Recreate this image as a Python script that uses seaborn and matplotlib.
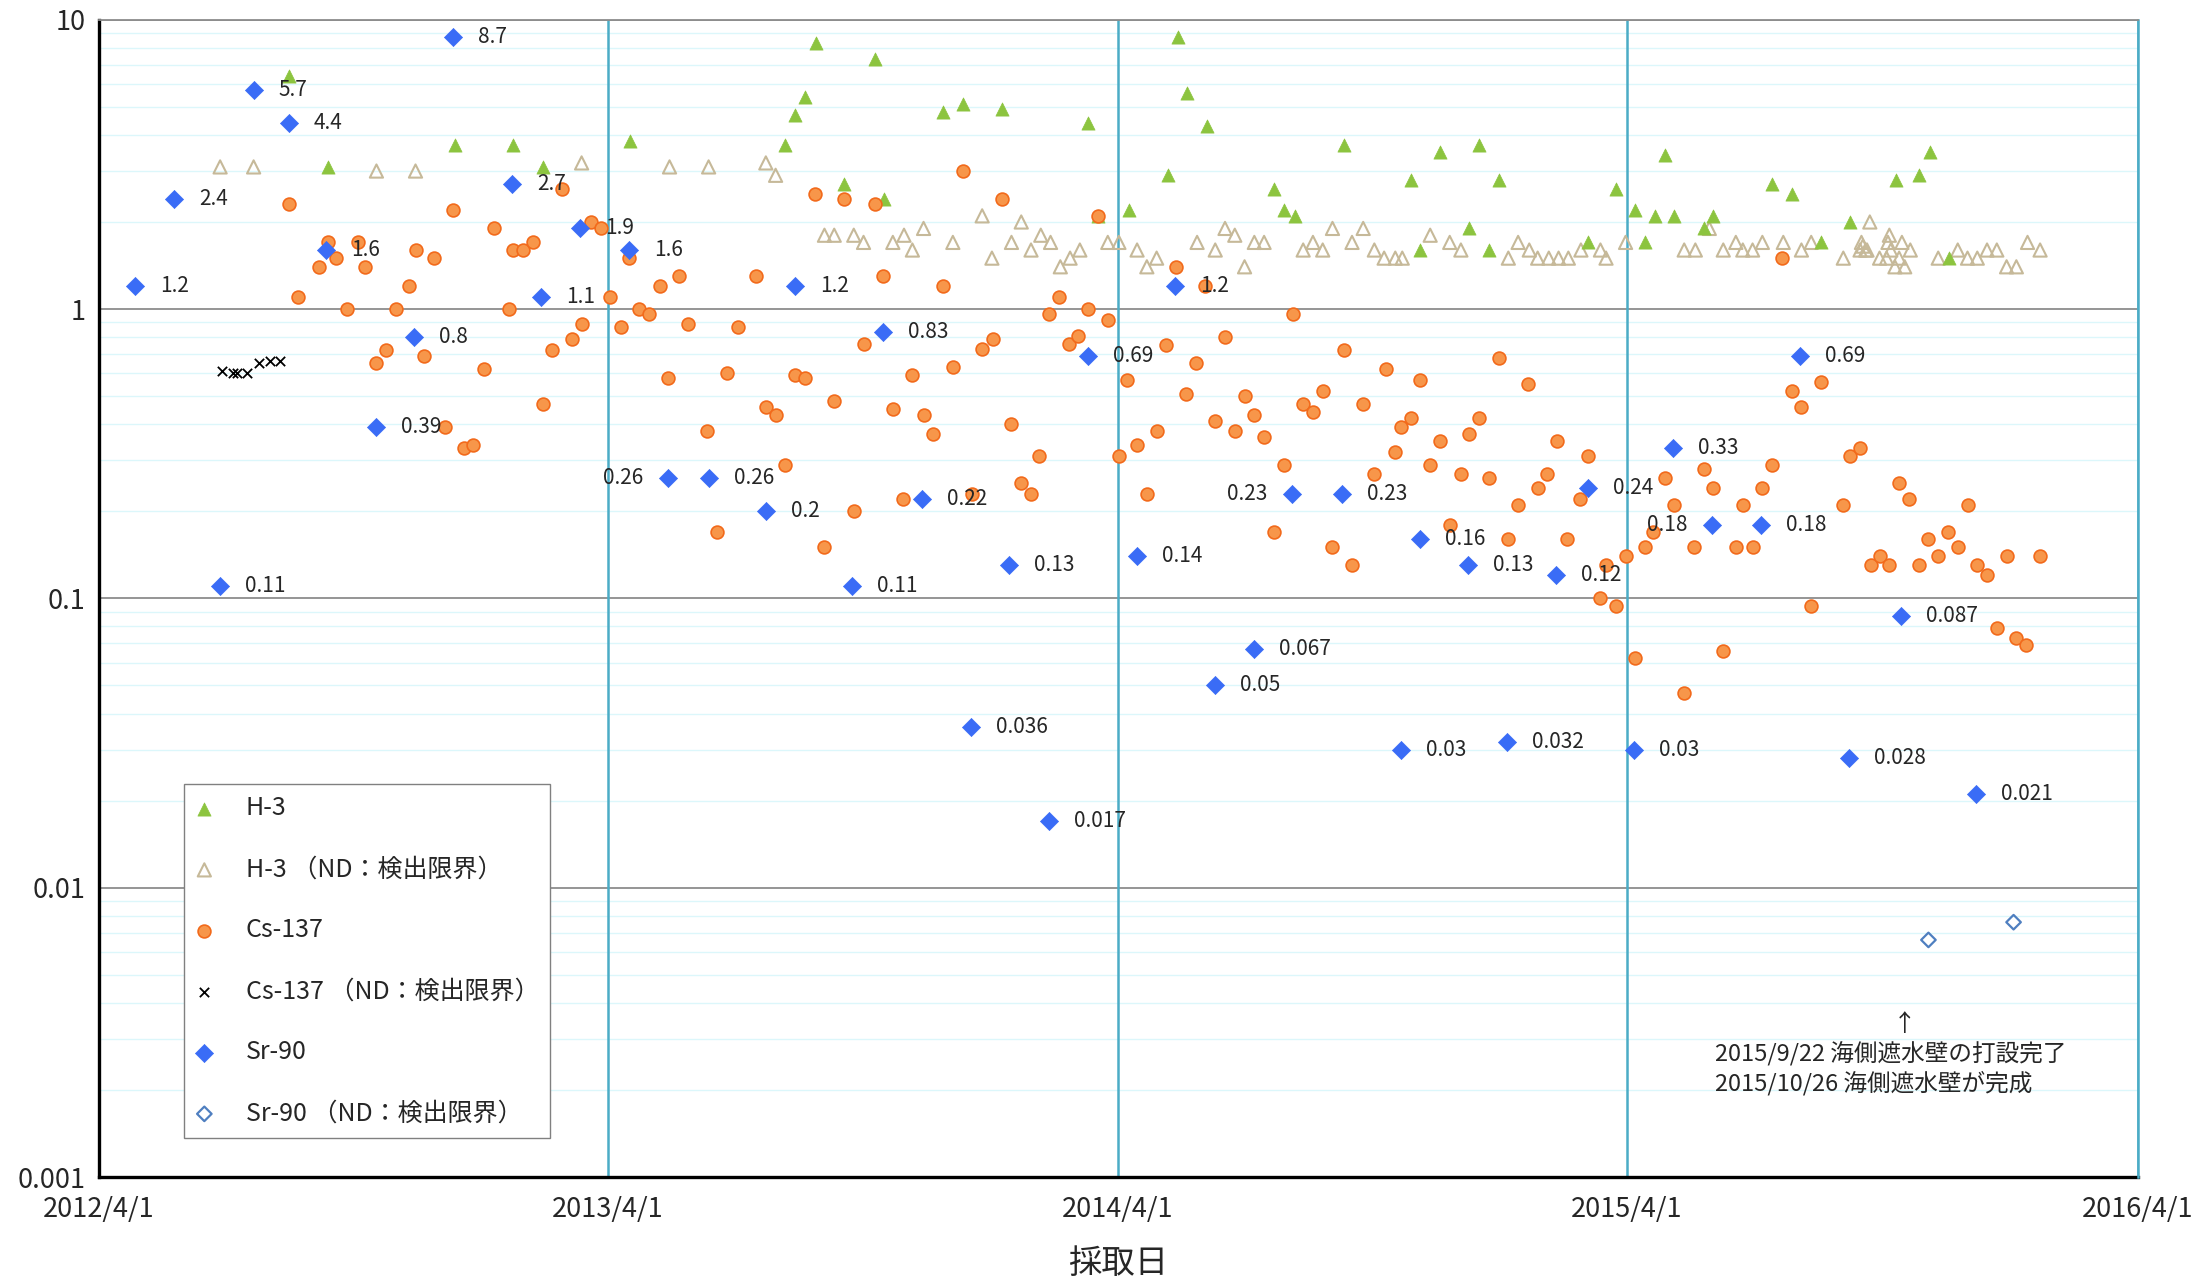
import pandas as pd
import matplotlib
matplotlib.use("Agg")
import matplotlib.pyplot as plt
import matplotlib.dates as mdates
from matplotlib.ticker import LogLocator, FuncFormatter, NullFormatter
import seaborn as sns

# H-3 (detected)
h3_date = ["2012-08-15", "2012-09-12", "2012-12-12", "2013-01-23", "2013-02-13", "2013-04-17",
           "2013-08-06", "2013-08-13", "2013-08-20", "2013-08-28", "2013-09-17", "2013-10-09",
           "2013-10-16", "2013-11-27", "2013-12-11", "2014-01-08", "2014-03-11", "2014-03-18",
           "2014-04-09", "2014-05-07", "2014-05-14", "2014-05-21", "2014-06-04", "2014-07-22",
           "2014-07-29", "2014-08-06", "2014-09-10", "2014-10-28", "2014-11-04", "2014-11-18",
           "2014-12-09", "2014-12-16", "2014-12-23", "2014-12-30", "2015-03-04", "2015-03-24",
           "2015-04-07", "2015-04-14", "2015-04-21", "2015-04-28", "2015-05-05", "2015-05-26",
           "2015-06-02", "2015-07-14", "2015-07-28", "2015-08-18", "2015-09-08", "2015-10-11",
           "2015-10-27", "2015-11-04", "2015-11-18"]
h3_value = [6.4, 3.1, 3.7, 3.7, 3.1, 3.8,
            3.7, 4.7, 5.4, 8.3, 2.7, 7.3,
            2.4, 4.8, 5.1, 4.9, 4.4, 2.1,
            2.2, 2.9, 8.7, 5.6, 4.3, 2.6,
            2.2, 2.1, 3.7, 2.8, 1.6, 3.5,
            1.9, 3.7, 1.6, 2.8, 1.7, 2.6,
            2.2, 1.7, 2.1, 3.4, 2.1, 1.9,
            2.1, 2.7, 2.5, 1.7, 2.0, 2.8,
            2.9, 3.5, 1.5]

# H-3 below detection limit (value = detection limit)
h3nd_date = ["2012-06-27", "2012-07-21", "2012-10-17", "2012-11-14", "2013-03-13", "2013-05-15",
             "2013-06-12", "2013-07-23", "2013-07-30", "2013-09-03", "2013-09-10", "2013-09-24",
             "2013-10-01", "2013-10-22", "2013-10-30", "2013-11-05", "2013-11-13", "2013-12-04",
             "2013-12-25", "2014-01-01", "2014-01-15", "2014-01-22", "2014-01-29", "2014-02-05",
             "2014-02-12", "2014-02-19", "2014-02-26", "2014-03-05", "2014-03-25", "2014-04-02",
             "2014-04-15", "2014-04-22", "2014-04-29", "2014-05-28", "2014-06-10", "2014-06-17",
             "2014-06-24", "2014-07-01", "2014-07-08", "2014-07-15", "2014-08-12", "2014-08-19",
             "2014-08-26", "2014-09-02", "2014-09-16", "2014-09-24", "2014-10-02", "2014-10-09",
             "2014-10-17", "2014-10-22", "2014-11-11", "2014-11-25", "2014-12-03", "2015-01-06",
             "2015-01-13", "2015-01-21", "2015-01-27", "2015-02-04", "2015-02-11", "2015-02-18",
             "2015-02-27", "2015-03-13", "2015-03-17", "2015-03-31", "2015-05-12", "2015-05-20",
             "2015-05-30", "2015-06-09", "2015-06-18", "2015-06-23", "2015-06-30", "2015-07-07",
             "2015-07-22", "2015-08-04", "2015-08-11", "2015-09-03", "2015-09-15", "2015-09-16",
             "2015-09-17", "2015-09-19", "2015-09-20", "2015-09-22", "2015-09-29", "2015-10-04",
             "2015-10-05", "2015-10-06", "2015-10-07", "2015-10-10", "2015-10-13", "2015-10-15",
             "2015-10-17", "2015-10-21", "2015-11-10", "2015-11-24", "2015-12-01", "2015-12-08",
             "2015-12-15", "2015-12-22", "2015-12-29", "2016-01-05", "2016-01-13", "2016-01-22"]
h3nd_value = [3.1, 3.1, 3.0, 3.0, 3.2, 3.1,
              3.1, 3.2, 2.9, 1.8, 1.8, 1.8,
              1.7, 1.7, 1.8, 1.6, 1.9, 1.7,
              2.1, 1.5, 1.7, 2.0, 1.6, 1.8,
              1.7, 1.4, 1.5, 1.6, 1.7, 1.7,
              1.6, 1.4, 1.5, 1.7, 1.6, 1.9,
              1.8, 1.4, 1.7, 1.7, 1.6, 1.7,
              1.6, 1.9, 1.7, 1.9, 1.6, 1.5,
              1.5, 1.5, 1.8, 1.7, 1.6, 1.5,
              1.7, 1.6, 1.5, 1.5, 1.5, 1.5,
              1.6, 1.6, 1.5, 1.7, 1.6, 1.6,
              1.9, 1.6, 1.7, 1.6, 1.6, 1.7,
              1.7, 1.6, 1.7, 1.5, 1.6, 1.7,
              1.65, 1.6, 1.6, 2.0, 1.5, 1.5,
              1.7, 1.8, 1.6, 1.4, 1.5, 1.7,
              1.4, 1.6, 1.5, 1.6, 1.5, 1.5,
              1.6, 1.6, 1.4, 1.4, 1.7, 1.6]

# Cs-137 (detected)
cs_date = ["2012-08-15", "2012-08-22", "2012-09-06", "2012-09-12", "2012-09-18", "2012-09-26",
           "2012-10-04", "2012-10-09", "2012-10-17", "2012-10-24", "2012-10-31", "2012-11-09",
           "2012-11-14", "2012-11-20", "2012-11-27", "2012-12-05", "2012-12-11", "2012-12-19",
           "2012-12-25", "2013-01-02", "2013-01-09", "2013-01-20", "2013-01-23", "2013-01-30",
           "2013-02-06", "2013-02-13", "2013-02-20", "2013-02-27", "2013-03-06", "2013-03-13",
           "2013-03-20", "2013-03-27", "2013-04-02", "2013-04-10", "2013-04-16", "2013-04-23",
           "2013-04-30", "2013-05-08", "2013-05-14", "2013-05-22", "2013-05-28", "2013-06-11",
           "2013-06-18", "2013-06-25", "2013-07-03", "2013-07-16", "2013-07-23", "2013-07-30",
           "2013-08-06", "2013-08-13", "2013-08-20", "2013-08-27", "2013-09-03", "2013-09-10",
           "2013-09-17", "2013-09-24", "2013-10-01", "2013-10-09", "2013-10-15", "2013-10-22",
           "2013-10-29", "2013-11-05", "2013-11-13", "2013-11-20", "2013-11-27", "2013-12-04",
           "2013-12-11", "2013-12-18", "2013-12-25", "2014-01-02", "2014-01-08", "2014-01-15",
           "2014-01-22", "2014-01-29", "2014-02-04", "2014-02-11", "2014-02-18", "2014-02-25",
           "2014-03-04", "2014-03-11", "2014-03-18", "2014-03-25", "2014-04-02", "2014-04-08",
           "2014-04-15", "2014-04-22", "2014-04-29", "2014-05-06", "2014-05-13", "2014-05-20",
           "2014-05-27", "2014-06-03", "2014-06-10", "2014-06-17", "2014-06-24", "2014-07-01",
           "2014-07-08", "2014-07-15", "2014-07-22", "2014-07-29", "2014-08-05", "2014-08-12",
           "2014-08-19", "2014-08-26", "2014-09-02", "2014-09-10", "2014-09-16", "2014-09-24",
           "2014-10-02", "2014-10-10", "2014-10-17", "2014-10-21", "2014-10-28", "2014-11-04",
           "2014-11-11", "2014-11-18", "2014-11-25", "2014-12-03", "2014-12-09", "2014-12-16",
           "2014-12-23", "2014-12-30", "2015-01-06", "2015-01-13", "2015-01-20", "2015-01-27",
           "2015-02-03", "2015-02-10", "2015-02-17", "2015-02-26", "2015-03-04", "2015-03-13",
           "2015-03-17", "2015-03-24", "2015-03-31", "2015-04-07", "2015-04-14", "2015-04-20",
           "2015-04-28", "2015-05-05", "2015-05-12", "2015-05-19", "2015-05-26", "2015-06-02",
           "2015-06-09", "2015-06-18", "2015-06-23", "2015-06-30", "2015-07-07", "2015-07-14",
           "2015-07-21", "2015-07-28", "2015-08-04", "2015-08-11", "2015-08-18", "2015-09-03",
           "2015-09-08", "2015-09-15", "2015-09-23", "2015-09-29", "2015-10-06", "2015-10-13",
           "2015-10-20", "2015-10-27", "2015-11-03", "2015-11-10", "2015-11-17", "2015-11-24",
           "2015-12-01", "2015-12-08", "2015-12-15", "2015-12-22", "2015-12-29", "2016-01-05",
           "2016-01-12", "2016-01-22"]
cs_value = [2.3, 1.1, 1.4, 1.7, 1.5, 1.0,
            1.7, 1.4, 0.65, 0.72, 1.0, 1.2,
            1.6, 0.69, 1.5, 0.39, 2.2, 0.33,
            0.34, 0.62, 1.9, 1.0, 1.6, 1.6,
            1.7, 0.47, 0.72, 2.6, 0.79, 0.89,
            2.0, 1.9, 1.1, 0.87, 1.5, 1.0,
            0.96, 1.2, 0.58, 1.3, 0.89, 0.38,
            0.17, 0.60, 0.87, 1.3, 0.46, 0.43,
            0.29, 0.59, 0.58, 2.5, 0.15, 0.48,
            2.4, 0.20, 0.76, 2.3, 1.3, 0.45,
            0.22, 0.59, 0.43, 0.37, 1.2, 0.63,
            3.0, 0.23, 0.73, 0.79, 2.4, 0.40,
            0.25, 0.23, 0.31, 0.96, 1.1, 0.76,
            0.81, 1.0, 2.1, 0.92, 0.31, 0.57,
            0.34, 0.23, 0.38, 0.75, 1.4, 0.51,
            0.65, 1.2, 0.41, 0.80, 0.38, 0.50,
            0.43, 0.36, 0.17, 0.29, 0.96, 0.47,
            0.44, 0.52, 0.15, 0.72, 0.13, 0.47,
            0.27, 0.62, 0.32, 0.39, 0.42, 0.57,
            0.29, 0.35, 0.18, 0.27, 0.37, 0.42,
            0.26, 0.68, 0.16, 0.21, 0.55, 0.24,
            0.27, 0.35, 0.16, 0.22, 0.31, 0.10,
            0.13, 0.094, 0.14, 0.062, 0.15, 0.17,
            0.26, 0.21, 0.047, 0.15, 0.28, 0.24,
            0.066, 0.15, 0.21, 0.15, 0.24, 0.29,
            1.5, 0.52, 0.46, 0.094, 0.56, 0.21,
            0.31, 0.33, 0.13, 0.14, 0.13, 0.25,
            0.22, 0.13, 0.16, 0.14, 0.17, 0.15,
            0.21, 0.13, 0.12, 0.079, 0.14, 0.073,
            0.069, 0.14]

# Cs-137 below detection limit
csnd_date = ["2012-06-28", "2012-07-06", "2012-07-09", "2012-07-16", "2012-07-25", "2012-08-02", "2012-08-09"]
csnd_value = [0.61, 0.60, 0.60, 0.60, 0.65, 0.66, 0.66]

# Sr-90 (detected, labelled)
sr_date = ["2012-04-27", "2012-05-25", "2012-06-27", "2012-07-21", "2012-08-15", "2012-09-11",
           "2012-10-17", "2012-11-13", "2012-12-11", "2013-01-22", "2013-02-12", "2013-03-12",
           "2013-04-16", "2013-05-14", "2013-06-12", "2013-07-23", "2013-08-13", "2013-09-23",
           "2013-10-15", "2013-11-12", "2013-12-17", "2014-01-13", "2014-02-11", "2014-03-11",
           "2014-04-15", "2014-05-12", "2014-06-10", "2014-07-08", "2014-08-04", "2014-09-09",
           "2014-10-21", "2014-11-04", "2014-12-08", "2015-01-05", "2015-02-09", "2015-03-04",
           "2015-04-06", "2015-05-04", "2015-06-01", "2015-07-06", "2015-08-03", "2015-09-07",
           "2015-10-14", "2015-12-07"]
sr_value = [1.2, 2.4, 0.11, 5.7, 4.4, 1.6,
            0.39, 0.8, 8.7, 2.7, 1.1, 1.9,
            1.6, 0.26, 0.26, 0.2, 1.2, 0.11,
            0.83, 0.22, 0.036, 0.13, 0.017, 0.69,
            0.14, 1.2, 0.05, 0.067, 0.23, 0.23,
            0.03, 0.16, 0.13, 0.032, 0.12, 0.24,
            0.03, 0.33, 0.18, 0.18, 0.69, 0.028,
            0.087, 0.021]
# labels written on the left side of the marker
sr_label_left = ["2013-05-14", "2014-08-04", "2015-06-01"]

# Sr-90 below detection limit
srnd_date = ["2015-11-03", "2016-01-03"]
srnd_value = [0.0066, 0.0076]

legend_labels = ["H-3", "H-3 （ND：検出限界）", "Cs-137", "Cs-137 （ND：検出限界）",
                 "Sr-90", "Sr-90 （ND：検出限界）"]
note_text = "2015/9/22 海側遮水壁の打設完了\n2015/10/26 海側遮水壁が完成"

sns.set_style("white")
plt.rcParams["font.family"] = ["Noto Sans CJK JP", "DejaVu Sans"]

fig = plt.figure(figsize=(22.08, 12.83), dpi=100)
ax = fig.add_axes([0.0447, 0.0826, 0.9235, 0.9020])

sns.scatterplot(x=pd.to_datetime(h3nd_date), y=h3nd_value, marker="^", s=90,
                facecolor="none", edgecolor="#c6b999", linewidth=1.5,
                label=legend_labels[1], ax=ax, zorder=3)
sns.scatterplot(x=pd.to_datetime(h3_date), y=h3_value, marker="^", s=90,
                color="#8cc43f", edgecolor="#8cc43f", linewidth=0.5,
                label=legend_labels[0], ax=ax, zorder=4)
sns.scatterplot(x=pd.to_datetime(csnd_date), y=csnd_value, marker="x", s=45,
                color="black", linewidth=1.3, label=legend_labels[3], ax=ax, zorder=5)
sns.scatterplot(x=pd.to_datetime(cs_date), y=cs_value, marker="o", s=85,
                color="#f7964a", edgecolor="#f26a1b", linewidth=1.2,
                label=legend_labels[2], ax=ax, zorder=6)
sns.scatterplot(x=pd.to_datetime(srnd_date), y=srnd_value, marker="D", s=55,
                facecolor="none", edgecolor="#4f7fc0", linewidth=1.6,
                label=legend_labels[5], ax=ax, zorder=7)
sns.scatterplot(x=pd.to_datetime(sr_date), y=sr_value, marker="D", s=85,
                color="#3a6cf6", edgecolor="#3a6cf6", linewidth=0.5,
                label=legend_labels[4], ax=ax, zorder=8)

for d, v in zip(sr_date, sr_value):
    left = d in sr_label_left
    ax.annotate(f"{v:g}", (pd.Timestamp(d), v), xytext=(-18 if left else 18, 0),
                textcoords="offset points", ha="right" if left else "left", va="center",
                fontsize=15, zorder=9)

ax.text(0.8854, 0.1322, "↑", transform=ax.transAxes, ha="center", va="center", fontsize=17)
ax.text(0.7928, 0.1170, note_text, transform=ax.transAxes, ha="left", va="top",
        fontsize=17, linespacing=1.25)

# axes
ax.set_yscale("log")
ax.set_ylim(0.001, 10)
ax.set_xlim(pd.Timestamp("2012-04-01"), pd.Timestamp("2016-04-01"))

ax.yaxis.set_major_locator(LogLocator(base=10))
ax.yaxis.set_minor_locator(LogLocator(base=10, subs=range(2, 10)))
ax.yaxis.set_major_formatter(FuncFormatter(lambda y, pos: f"{y:g}"))
ax.yaxis.set_minor_formatter(NullFormatter())

ax.xaxis.set_major_locator(mdates.MonthLocator(bymonth=4, bymonthday=1))
ax.xaxis.set_minor_locator(mdates.MonthLocator(bymonth=[1, 7, 10], bymonthday=1))
ax.xaxis.set_major_formatter(FuncFormatter(
    lambda x, pos: f"{mdates.num2date(x).year}/{mdates.num2date(x).month}/{mdates.num2date(x).day}"))

ax.set_axisbelow(True)
ax.grid(which="major", axis="y", color="#8c8c8c", linewidth=1.3)
ax.grid(which="minor", axis="y", color="#dcf7fb", linewidth=1.0)
# yearly lines sit on top of the horizontal grid, below the markers
for t in ax.get_xticks():
    ax.axvline(t, color="#4bacc6", linewidth=1.8, zorder=1)

for side in ["left", "bottom"]:
    ax.spines[side].set_color("black")
    ax.spines[side].set_linewidth(2.4)
    ax.spines[side].set_zorder(2)
ax.spines["top"].set_color("#8c8c8c")
ax.spines["top"].set_linewidth(1.3)
ax.spines["right"].set_color("#4bacc6")
ax.spines["right"].set_linewidth(1.8)

ax.tick_params(axis="both", which="major", direction="inout", length=11, width=2.2,
               labelsize=19.5, color="black")
ax.tick_params(axis="both", which="minor", direction="in", length=4.5, width=2, color="black")
ax.tick_params(axis="y", which="major", pad=4)
ax.tick_params(axis="x", which="major", pad=8)

ax.set_xlabel("採取日", fontsize=24, labelpad=17)
ax.set_ylabel("")

handles, labels = ax.get_legend_handles_labels()
order = [labels.index(l) for l in legend_labels]
ax.legend([handles[i] for i in order], [labels[i] for i in order],
          loc="lower left", bbox_to_anchor=(0.042, 0.034), borderaxespad=0,
          fontsize=18, frameon=True, fancybox=False, edgecolor="#808080", framealpha=1,
          labelspacing=1.4, handlelength=0.7, handletextpad=1.3, borderpad=0.45)

plt.savefig("out.png", dpi=100)
